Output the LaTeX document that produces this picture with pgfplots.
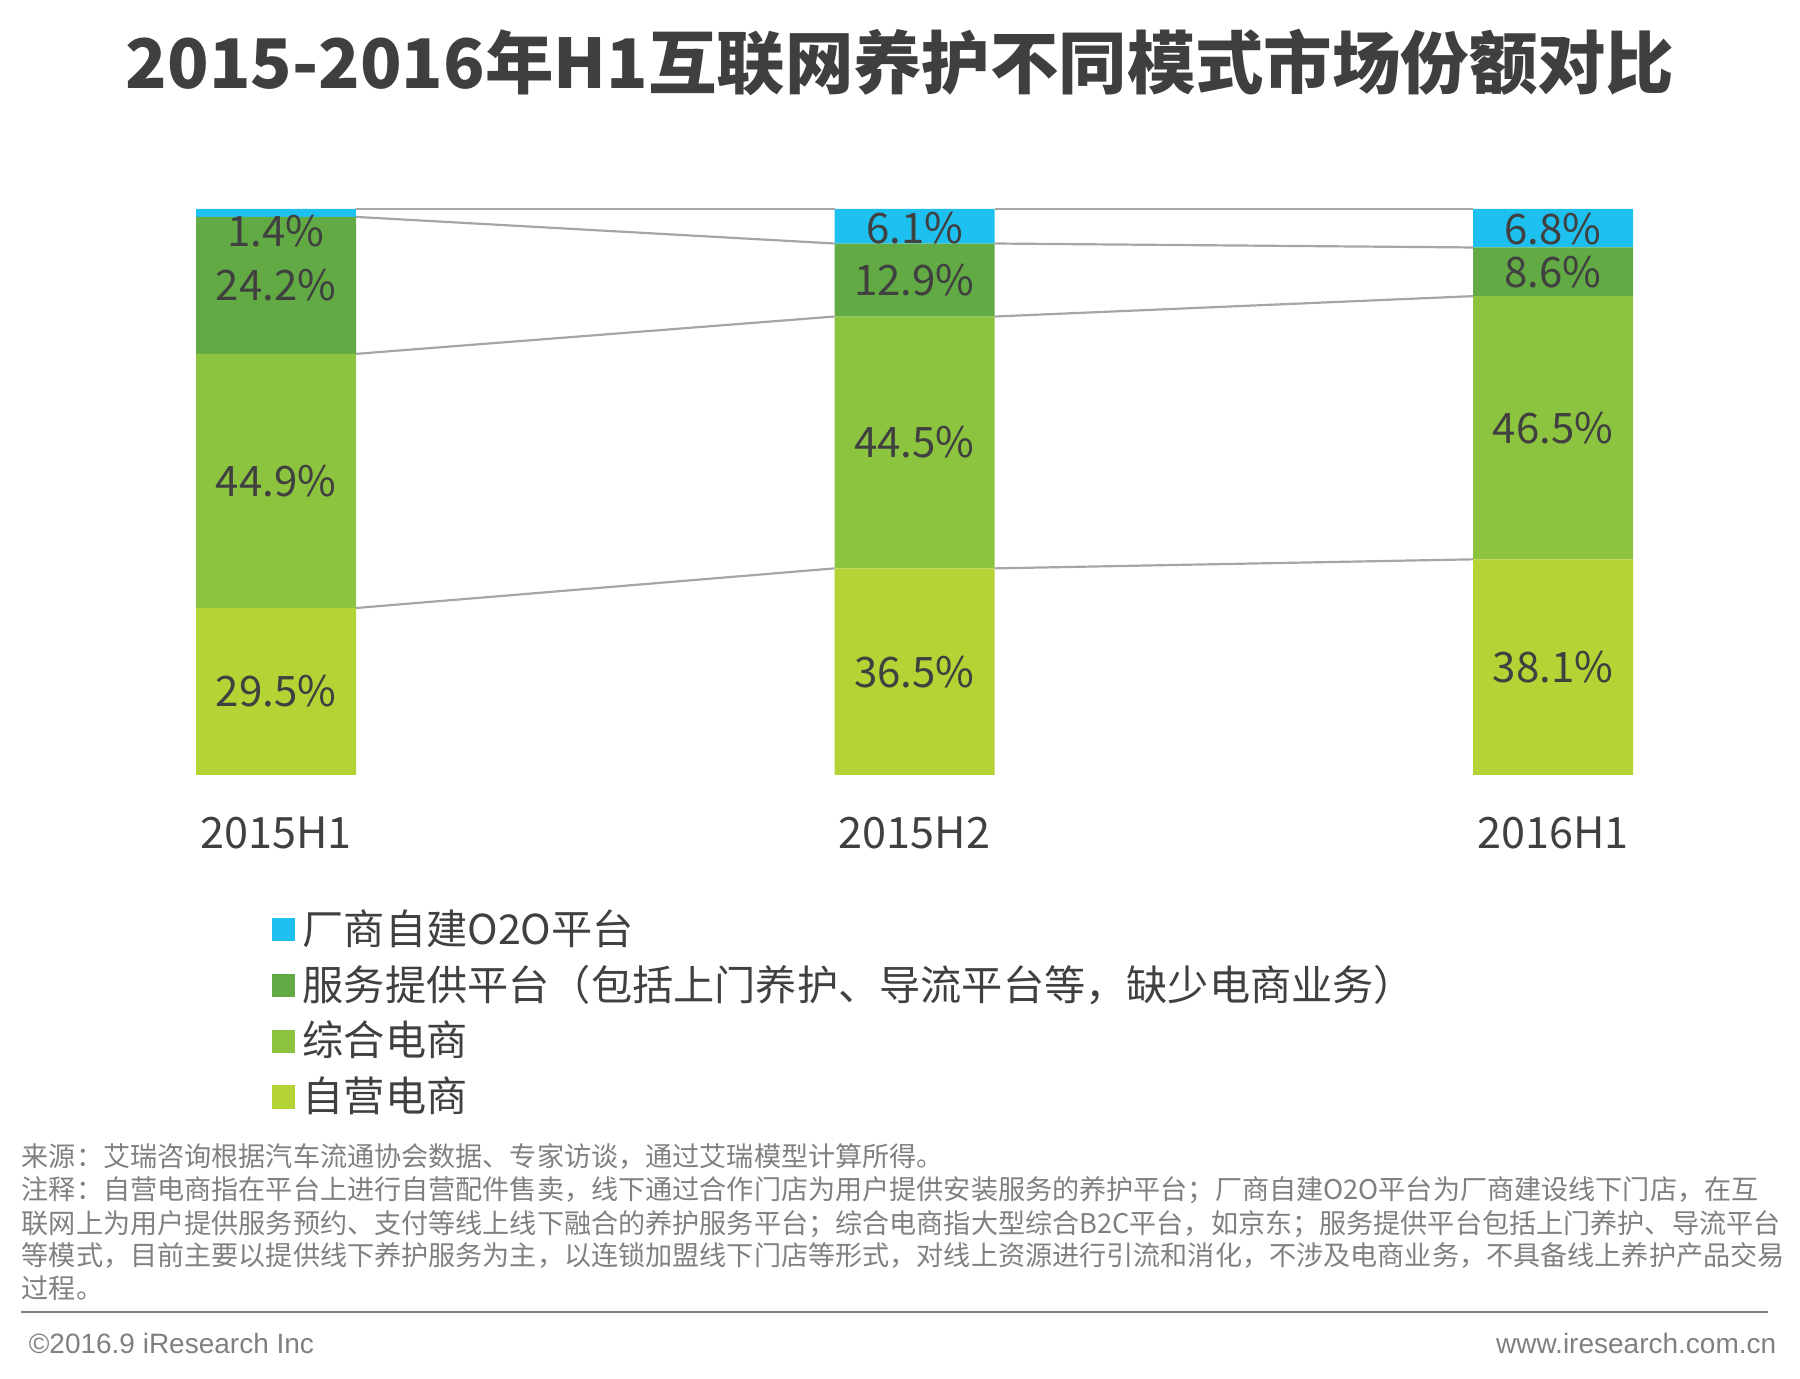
\documentclass[border=0pt]{standalone}
\usepackage{pgfplots}
\pgfplotsset{compat=1.18}
\usepackage{fontspec}
\setmainfont{Noto Sans CJK SC}
\newfontfamily\enfont{Liberation Sans}

\definecolor{cO2O}{HTML}{1EC0EF}
\definecolor{cSvc}{HTML}{62AA43}
\definecolor{cAll}{HTML}{8DC43F}
\definecolor{cOwn}{HTML}{B4D335}
\definecolor{ctext}{HTML}{404040}
\definecolor{ctitle}{HTML}{3F3F3F}
\definecolor{cnote}{HTML}{808080}
\definecolor{cline}{HTML}{A6A6A6}

% 1 px of the reference = 0.25pt
\pgfplotsset{
  geom/.style={
    at={(49pt,151pt)}, anchor=south west,
    scale only axis, width=359.25pt, height=141.5pt,
    xmin=-0.1253, xmax=2.1253, ymin=0, ymax=100,
  }
}

\begin{document}
\begin{tikzpicture}
\useasboundingbox (0,0) rectangle (450pt,344.75pt);

\node[font=\fontsize{17.1}{20}\selectfont\bfseries, text=ctitle] at (225pt,329pt)
  {2015-2016年H1互联网养护不同模式市场份额对比};

\begin{axis}[
  geom,
  ybar stacked, bar width=40pt,
  axis line style={draw=none},
  ytick=\empty,
  xtick={0,1,2},
  xticklabels={2015H1,2015H2,2016H1},
  major tick length=0pt,
  xticklabel style={anchor=center, yshift=-14.5pt,
    font=\fontsize{10.8}{13}\selectfont, text=ctext},
  reverse legend,
  legend cell align=left,
  legend image code/.code={\fill[#1] (0pt,-2.9pt) rectangle (5.8pt,2.9pt);},
  legend style={at={(0.052,-0.222)}, anchor=north west, draw=none, fill=none,
    inner sep=0pt, font=\fontsize{10.3}{12}\selectfont, text=ctext,
    row sep=-0.3pt,
    /tikz/every even column/.append style={column sep=2.5pt}},
]
\addplot[fill=cOwn, draw=none] coordinates {(0,29.5) (1,36.5) (2,38.1)};
\addlegendentry{自营电商}
\addplot[fill=cAll, draw=none] coordinates {(0,44.9) (1,44.5) (2,46.5)};
\addlegendentry{综合电商}
\addplot[fill=cSvc, draw=none] coordinates {(0,24.2) (1,12.9) (2,8.6)};
\addlegendentry{服务提供平台（包括上门养护、导流平台等，缺少电商业务）}
\addplot[fill=cO2O, draw=none] coordinates {(0,1.4) (1,6.1) (2,6.8)};
\addlegendentry{厂商自建O2O平台}
\end{axis}

\begin{axis}[geom, hide axis, clip=false, unbounded coords=jump]
% connectors between the bars, at the cumulative boundaries
\addplot[cline, line width=0.55pt] coordinates {(0.1253,29.5) (0.8747,36.5) (1,nan) (1.1253,36.5) (1.8747,38.1)};
\addplot[cline, line width=0.55pt] coordinates {(0.1253,74.4) (0.8747,81.0) (1,nan) (1.1253,81.0) (1.8747,84.6)};
\addplot[cline, line width=0.55pt] coordinates {(0.1253,98.6) (0.8747,93.9) (1,nan) (1.1253,93.9) (1.8747,93.2)};
\addplot[cline, line width=0.55pt] coordinates {(0.1253,100) (0.8747,100) (1,nan) (1.1253,100) (1.8747,100)};
% value labels
\addplot[draw=none, mark=none, nodes near coords, point meta=explicit symbolic,
  every node near coord/.append style={anchor=center, inner sep=0pt,
    font=\fontsize{10.5}{13}\selectfont, text=ctext}]
  coordinates {
    (0,14.75) [29.5\%] (0,51.95) [44.9\%] (0,86.5) [24.2\%] (0,96.1) [1.4\%]
    (1,18.25) [36.5\%] (1,58.75) [44.5\%] (1,87.45) [12.9\%] (1,96.6) [6.1\%]
    (2,19.05) [38.1\%] (2,61.35) [46.5\%] (2,88.9) [8.6\%] (2,96.4) [6.8\%]
  };
\end{axis}

\begin{scope}[every node/.style={anchor=base west, inner sep=0pt, text=cnote,
    font=\fontsize{6.78}{8}\selectfont}]
\node at (5.25pt,53pt) {来源：艾瑞咨询根据汽车流通协会数据、专家访谈，通过艾瑞模型计算所得。};
\node at (5.25pt,44.75pt) {注释：自营电商指在平台上进行自营配件售卖，线下通过合作门店为用户提供安装服务的养护平台；厂商自建O2O平台为厂商建设线下门店，在互};
\node at (5.25pt,36.25pt) {联网上为用户提供服务预约、支付等线上线下融合的养护服务平台；综合电商指大型综合B2C平台，如京东；服务提供平台包括上门养护、导流平台};
\node at (5.25pt,28.25pt) {等模式，目前主要以提供线下养护服务为主，以连锁加盟线下门店等形式，对线上资源进行引流和消化，不涉及电商业务，不具备线上养护产品交易};
\node at (5.25pt,20pt) {过程。};
\end{scope}

\draw[cnote, line width=0.5pt] (5.25pt,16.75pt) -- (442pt,16.75pt);

\node[anchor=base west, inner sep=0pt, text=cnote, font=\enfont\fontsize{7}{8}\selectfont]
  at (7pt,6.25pt) {©2016.9 iResearch Inc};
\node[anchor=base east, inner sep=0pt, text=cnote, font=\enfont\fontsize{7}{8}\selectfont]
  at (444.25pt,6.25pt) {www.iresearch.com.cn};
\end{tikzpicture}
\end{document}
